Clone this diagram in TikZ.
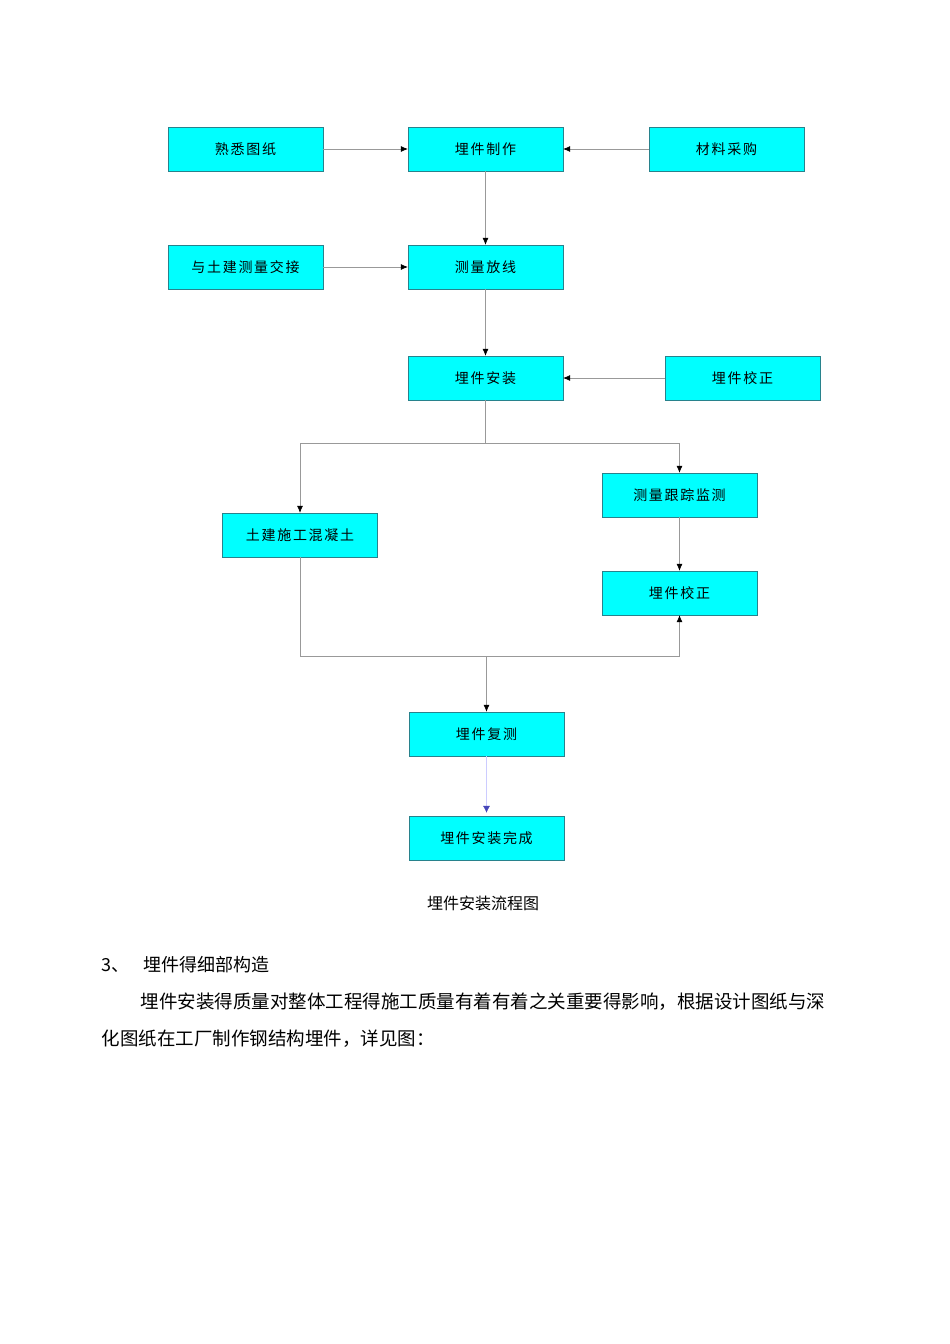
\documentclass[tikz,border=0pt]{standalone}
\usepackage{fontspec}
\newfontfamily\cjk{Noto Sans CJK SC}
\newfontfamily\cjksp[LetterSpace=12]{Noto Sans CJK SC}
\usetikzlibrary{arrows.meta}
\definecolor{boxc}{RGB}{0,255,255}
\definecolor{boxd}{RGB}{40,130,140}
\begin{document}
\begin{tikzpicture}[x=1pt,y=-1pt,
  fbox/.style={draw=boxd,fill=boxc,minimum width=155pt,minimum height=44pt,inner sep=0pt,font=\cjksp\fontsize{14}{14}\selectfont},
  conn/.style={draw=black!40,line width=0.6pt},
  arr/.style={conn,-{Latex[length=7pt,width=6pt,black]}}]
\useasboundingbox (0,0) rectangle (950,1344);
\fill[white] (0,0) rectangle (950,1344);
\node[fbox] (a) at (245.5,149) {熟悉图纸};
\node[fbox] (b) at (485.5,149) {埋件制作};
\node[fbox] (c) at (726.5,149) {材料采购};
\node[fbox] (d) at (245.5,267) {与土建测量交接};
\node[fbox] (e) at (485.5,267) {测量放线};
\node[fbox] (f) at (485.5,378) {埋件安装};
\node[fbox] (g) at (742.5,378) {埋件校正};
\node[fbox] (h) at (679.5,495) {测量跟踪监测};
\node[fbox] (i) at (300,535) {土建施工混凝土};
\node[fbox] (j) at (679.5,593) {埋件校正};
\node[fbox] (k) at (486.5,734) {埋件复测};
\node[fbox] (l) at (486.5,838) {埋件安装完成};
\coordinate (s1) at (485.5,443);
\coordinate (s2) at (486.5,656);
\draw[arr] (a) -- (b);
\draw[arr] (c) -- (b);
\draw[arr] (b) -- (e);
\draw[arr] (d) -- (e);
\draw[arr] (e) -- (f);
\draw[arr] (g) -- (f);
\draw[conn] (f) -- (s1);
\draw[arr] (s1) -| (i.north);
\draw[arr] (s1) -| (h.north);
\draw[arr] (h) -- (j);
\draw[conn] (i.south) |- (s2);
\draw[arr] (s2) -| (j.south);
\draw[arr] (s2) -- (k.north);
\draw[draw=blue!20,line width=0.6pt,-{Latex[length=7pt,width=7pt,blue!45!gray]},shorten >=3pt] (k) -- (l);
\node[font=\cjk\fontsize{16}{16}\selectfont] (cap) at (483,903) {埋件安装流程图};
\node[anchor=west,font=\cjk\fontsize{18}{18}\selectfont] (hd) at (98,965) {3、\hspace{14pt}埋件得细部构造};
\node[anchor=west,font=\cjk\fontsize{18.5}{18.5}\selectfont] (p1) at (137,1002) {埋件安装得质量对整体工程得施工质量有着有着之关重要得影响，根据设计图纸与深};
\node[anchor=west,font=\cjk\fontsize{18.5}{18.5}\selectfont] (p2) at (98,1039) {化图纸在工厂制作钢结构埋件，详见图：};
\end{tikzpicture}
\end{document}
